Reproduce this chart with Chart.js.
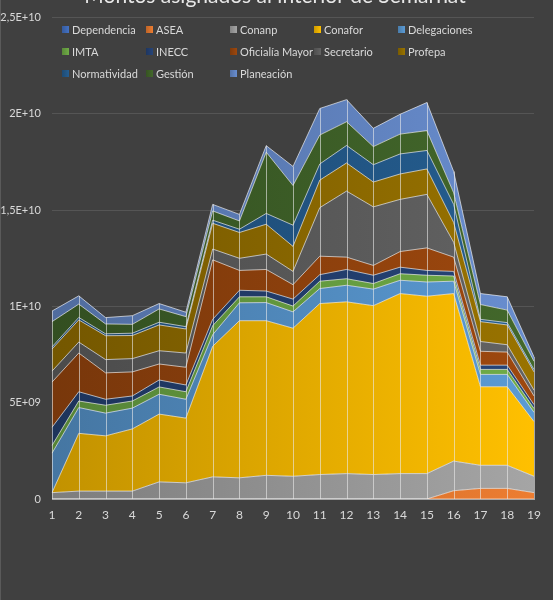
<!DOCTYPE html>
<html>
<head>
<meta charset="utf-8">
<script src="https://cdn.jsdelivr.net/npm/chart.js@4/dist/chart.umd.min.js"></script>
<style>
html,body{margin:0;padding:0;background:#404040;}
#wrap{width:553px;height:600px;position:relative;}
canvas{display:block;}
</style>
</head>
<body>
<div id="wrap"><canvas id="c" width="553" height="600"></canvas></div>
<script>
// ---- data ----
const chartTitle = 'Montos asignados al interior de Semarnat';
const categories = ['1','2','3','4','5','6','7','8','9','10','11','12','13','14','15','16','17','18','19'];
const yTickLabels = ['0','5E+09','1E+10','1,5E+10','2E+10','2,5E+10'];

const seriesNames = ['Dependencia','ASEA','Conanp','Conafor','Delegaciones','IMTA','INECC','Oficialía Mayor','Secretario','Profepa','Normatividad','Gestión','Planeación'];
const seriesColors = ['#4472C4','#ED7D31','#A5A5A5','#FFC000','#5B9BD5','#70AD47','#264478','#9E480E','#636363','#997300','#255E91','#43682B','#698ED0'];

const dependencia  = [0,0,0,0,0,0,0,0,0,0,0,0,0,0,0,0,0,0,0];
const asea         = [0,0,0,0,0,0,0,0,0,0,0,0,0,0,0,0.43e9,0.55e9,0.55e9,0.33e9];
const conanp       = [0.33e9,0.41e9,0.41e9,0.41e9,0.89e9,0.84e9,1.15e9,1.10e9,1.23e9,1.18e9,1.27e9,1.32e9,1.27e9,1.32e9,1.32e9,1.54e9,1.20e9,1.20e9,0.85e9];
const conafor      = [0,3.00e9,2.87e9,3.23e9,3.52e9,3.36e9,6.78e9,8.16e9,8.03e9,7.69e9,8.88e9,8.92e9,8.77e9,9.35e9,9.21e9,8.70e9,4.08e9,4.08e9,2.84e9];
const delegaciones = [2.05e9,1.34e9,1.18e9,1.08e9,1.03e9,0.98e9,0.60e9,0.93e9,0.94e9,0.85e9,0.78e9,0.86e9,0.86e9,0.69e9,0.74e9,0.64e9,0.64e9,0.64e9,0.48e9];
const imta         = [0.40e9,0.34e9,0.41e9,0.37e9,0.38e9,0.39e9,0.47e9,0.31e9,0.30e9,0.30e9,0.38e9,0.34e9,0.29e9,0.34e9,0.35e9,0.27e9,0.26e9,0.26e9,0.20e9];
const inecc        = [0.94e9,0.48e9,0.31e9,0.26e9,0.36e9,0.35e9,0.33e9,0.34e9,0.30e9,0.36e9,0.34e9,0.48e9,0.43e9,0.34e9,0.25e9,0.24e9,0.22e9,0.22e9,0.20e9];
const oficialia    = [2.35e9,2.01e9,1.37e9,1.25e9,0.83e9,0.92e9,3.09e9,1.03e9,1.12e9,0.75e9,0.96e9,0.64e9,0.51e9,0.81e9,1.17e9,0.74e9,0.72e9,0.68e9,0.45e9];
const secretario   = [0.57e9,0.57e9,0.69e9,0.69e9,0.69e9,0.74e9,0.56e9,0.63e9,0.80e9,0.69e9,2.52e9,3.43e9,3.04e9,2.71e9,2.78e9,0.77e9,0.51e9,0.38e9,0.30e9];
const profepa      = [1.15e9,1.15e9,1.24e9,1.20e9,1.34e9,1.25e9,1.34e9,1.34e9,1.55e9,1.30e9,1.43e9,1.46e9,1.29e9,1.32e9,1.32e9,1.03e9,1.03e9,1.03e9,0.95e9];
const normatividad = [0.11e9,0.13e9,0.10e9,0.12e9,0.14e9,0.12e9,0.16e9,0.17e9,0.56e9,1.10e9,0.84e9,0.91e9,0.90e9,1.04e9,0.96e9,0.94e9,0.12e9,0.12e9,0.12e9];
const gestion      = [1.31e9,0.69e9,0.51e9,0.46e9,0.69e9,0.52e9,0.48e9,0.43e9,3.18e9,2.06e9,1.50e9,1.23e9,0.94e9,1.03e9,1.03e9,0.60e9,0.77e9,0.65e9,0.43e9];
const planeacion   = [0.55e9,0.43e9,0.33e9,0.45e9,0.28e9,0.23e9,0.34e9,0.34e9,0.34e9,0.99e9,1.38e9,1.15e9,0.95e9,1.03e9,1.46e9,1.11e9,0.57e9,0.69e9,0.23e9];

const seriesValues = [dependencia, asea, conanp, conafor, delegaciones, imta, inecc, oficialia, secretario, profepa, normatividad, gestion, planeacion];

// ---- helpers ----
function shade(hex, f){
  const n = parseInt(hex.slice(1),16);
  const r = Math.round(((n>>16)&255)*f), g = Math.round(((n>>8)&255)*f), b = Math.round((n&255)*f);
  return 'rgb('+r+','+g+','+b+')';
}
const gradCache = {};
function gradientFill(color){
  return function(ctx){
    const chart = ctx.chart; const a = chart.chartArea;
    if(!a) return color;
    const key = color+a.left+'_'+a.right;
    if(gradCache[key]) return gradCache[key];
    const g = chart.ctx.createLinearGradient(a.left,0,a.right,0);
    g.addColorStop(0, shade(color,0.76));
    g.addColorStop(1, color);
    gradCache[key] = g;
    return g;
  };
}

const datasets = seriesNames.map((name,i)=>({
  label: name,
  data: seriesValues[i],
  backgroundColor: gradientFill(seriesColors[i]),
  borderColor: 'rgba(255,255,255,0.62)',
  borderWidth: 1,
  pointRadius: 0,
  pointHoverRadius: 0,
  tension: 0,
  fill: i === 0 ? 'origin' : '-1'
}));

const bgPlugin = {
  id:'bg',
  beforeDraw(chart){
    const c = chart.ctx;
    c.save();
    c.fillStyle = '#404040';
    c.fillRect(0,0,chart.width,chart.height);
    c.fillStyle = '#5a5a5a';
    c.fillRect(0,0,1,chart.height);
    c.restore();
  }
};

const titlePlugin = {
  id:'cutTitle',
  beforeDatasetsDraw(chart){
    const c = chart.ctx;
    c.save();
    c.font = '21px Lato';
    c.fillStyle = '#e8e8e8';
    c.textAlign = 'center';
    c.textBaseline = 'alphabetic';
    c.fillText(chartTitle, 275, 3);
    c.restore();
  }
};

const dropLines = {
  id:'dropLines',
  afterDatasetsDraw(chart){
    const c = chart.ctx;
    const xs = chart.scales.x, ys = chart.scales.y;
    const top = chart.getDatasetMeta(chart.data.datasets.length-1);
    c.save();
    c.strokeStyle = 'rgba(235,235,235,0.6)';
    c.lineWidth = 1;
    top.data.forEach((pt,i)=>{
      const x = Math.round(xs.getPixelForValue(i))+0.5;
      c.beginPath();
      c.moveTo(x, pt.y);
      c.lineTo(x, ys.bottom);
      c.stroke();
    });
    c.restore();
  }
};

const legendPlugin = {
  id:'gridLegend',
  afterDraw(chart){
    const c = chart.ctx;
    const colX = [62,146,230,314,398];
    const rowY = [29.5,51.5,73.5];
    c.save();
    c.font = '11px Lato';
    c.textBaseline = 'middle';
    c.textAlign = 'left';
    chart.data.datasets.forEach((ds,i)=>{
      const x = colX[i%5], y = rowY[Math.floor(i/5)];
      const col = seriesColors[i];
      const g = c.createLinearGradient(x,0,x+7,0);
      g.addColorStop(0, shade(col,0.8)); g.addColorStop(1, col);
      c.fillStyle = g;
      c.fillRect(x, y-3.5, 7, 7);
      c.fillStyle = '#d9d9d9';
      c.fillText(ds.label, x+10, y+0.5);
    });
    c.restore();
  }
};

new Chart(document.getElementById('c'), {
  type:'line',
  data:{ labels: categories, datasets },
  options:{
    responsive:false,
    animation:false,
    devicePixelRatio:1,
    layout:{ padding:{ top:13, right:19, left:0, bottom:0 } },
    plugins:{ legend:{display:false}, title:{display:false}, tooltip:{enabled:false} },
    elements:{ line:{ borderJoinStyle:'miter' } },
    scales:{
      x:{
        offset:false,
        grid:{ display:false, drawTicks:false },
        border:{ display:true, color:'#a6a6a6', width:1 },
        ticks:{ color:'#d9d9d9', font:{ family:'Lato', size:12 }, padding:9, maxRotation:0, autoSkip:false },
        afterFit(s){ s.height = 101; }
      },
      y:{
        stacked:true,
        min:0, max:2.5e10,
        grid:{ color:'#555555', drawTicks:false, lineWidth:1 },
        border:{ display:false },
        ticks:{ stepSize:5e9, color:'#d9d9d9', font:{ family:'Lato', size:11 }, padding:11,
          callback:(v)=> yTickLabels[Math.round(v/5e9)] },
        afterFit(s){ s.width = 52; }
      }
    }
  },
  plugins:[bgPlugin, titlePlugin, dropLines, legendPlugin]
});
</script>
</body>
</html>
